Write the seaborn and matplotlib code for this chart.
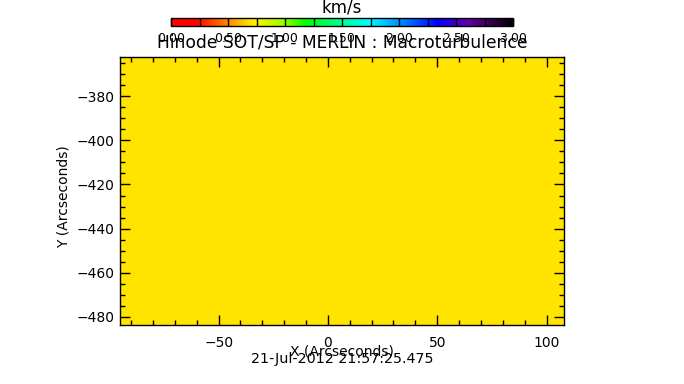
import numpy as np
import matplotlib
matplotlib.use("Agg")
import matplotlib.pyplot as plt
import seaborn as sns
from matplotlib.colors import LinearSegmentedColormap

# ---- data ----
macroturbulence = [[0.7, 0.7, 0.7],
                   [0.7, 0.7, 0.7],
                   [0.7, 0.7, 0.7]]          # km/s (uniform map)
x_extent = [-95.1, 108.0]                    # arcsec
y_extent = [-362.2, -483.7]                  # arcsec (top, bottom)
x_major = [-50, 0, 50, 100]
y_major = [-380, -400, -420, -440, -460, -480]
cbar_ticks = [0.0, 0.5, 1.0, 1.5, 2.0, 2.5, 3.0]
title = "Hinode SOT/SP - MERLIN : Macroturbulence"
date_text = "21-Jul-2012 21:57:25.475"
vmin, vmax = 0.0, 3.0

sns.set_theme(style="white")
plt.rcParams['font.family'] = ['DejaVu Sans']

cmap = LinearSegmentedColormap.from_list("idl", [
    (0.00, (1.0, 0.0, 0.0)),
    (0.07, (1.0, 0.0, 0.0)),
    (0.233, (1.0, 0.902, 0.0)),
    (0.25, (1.0, 0.94, 0.0)),
    (0.33, (0.6, 1.0, 0.0)),
    (0.39, (0.0, 1.0, 0.0)),
    (0.58, (0.0, 1.0, 1.0)),
    (0.68, (0.0, 0.5, 1.0)),
    (0.78, (0.0, 0.0, 1.0)),
    (0.87, (0.4, 0.0, 0.63)),
    (1.00, (0.0, 0.0, 0.0)),
])

fig = plt.figure(figsize=(6.84, 3.84), dpi=100)
fig.patch.set_facecolor("white")
ax = fig.add_axes([120/684, 1-325/384, 444/684, 268/384])
cax = fig.add_axes([171/684, 1-26/384, 342/684, 8/384])

data = np.array(macroturbulence)
ny, nx = data.shape
sns.heatmap(data, ax=ax, cmap=cmap, vmin=vmin, vmax=vmax, cbar=True,
            cbar_ax=cax, cbar_kws={"orientation": "horizontal"},
            xticklabels=False, yticklabels=False)
ax.set_axisbelow(False)
cax.set_axisbelow(False)

def xmap(v):
    return (np.asarray(v, float) - x_extent[0]) / (x_extent[1] - x_extent[0]) * nx

def ymap(v):
    return (y_extent[0] - np.asarray(v, float)) / (y_extent[0] - y_extent[1]) * ny

x_minor = [v for v in range(-90, 110, 10) if v not in x_major]
y_minor = [v for v in range(-365, -485, -5) if v not in y_major]

ax.set_xticks(xmap(x_major))
ax.set_xticklabels([f"{v}".replace("-", "\u2212") for v in x_major])
ax.set_xticks(xmap(x_minor), minor=True)
ax.set_yticks(ymap(y_major))
ax.set_yticklabels([f"{v}".replace("-", "\u2212") for v in y_major])
ax.set_yticks(ymap(y_minor), minor=True)
ax.set_xlim(0, nx)
ax.set_ylim(ny, 0)

for s in ax.spines.values():
    s.set_visible(True)
    s.set_color("black")
    s.set_linewidth(1.0)
    s.set_zorder(3)
ax.tick_params(which="both", direction="in", top=True, right=True,
               bottom=True, left=True, color="black", labelsize=10,
               labelcolor="black")
ax.tick_params(which="major", length=7, width=1)
ax.tick_params(which="minor", length=3.5, width=1)
ax.tick_params(axis="x", which="major", pad=8)
ax.tick_params(axis="y", which="major", pad=4)
ax.set_xlabel("X (Arcseconds)", fontsize=10, color="black", labelpad=-4)
ax.set_ylabel("Y (Arcseconds)", fontsize=10, color="black")
ax.yaxis.set_label_coords(-0.112, 0.48)
ax.set_title(title, fontsize=12.3, color="black", pad=7)

cb = ax.collections[0].colorbar
cb.set_ticks(cbar_ticks)
cb.set_ticklabels([f"{v:.2f}" for v in cbar_ticks])
cb.ax.xaxis.set_minor_locator(matplotlib.ticker.MultipleLocator(0.25))
cb.outline.set_visible(True)
cb.outline.set_edgecolor("black")
cb.outline.set_linewidth(1.0)
cax.tick_params(which="both", direction="in", top=True, bottom=True,
                color="black", length=3, width=1, labelsize=9,
                labelcolor="black", pad=4)

fig.text(342/684, 1-8/384, "km/s", ha="center", va="center", fontsize=12, color="black")
fig.text(342/684, 1-359/384, date_text, ha="center", va="center", fontsize=10.3, color="black")

fig.savefig("out.png", dpi=100, facecolor="white")
